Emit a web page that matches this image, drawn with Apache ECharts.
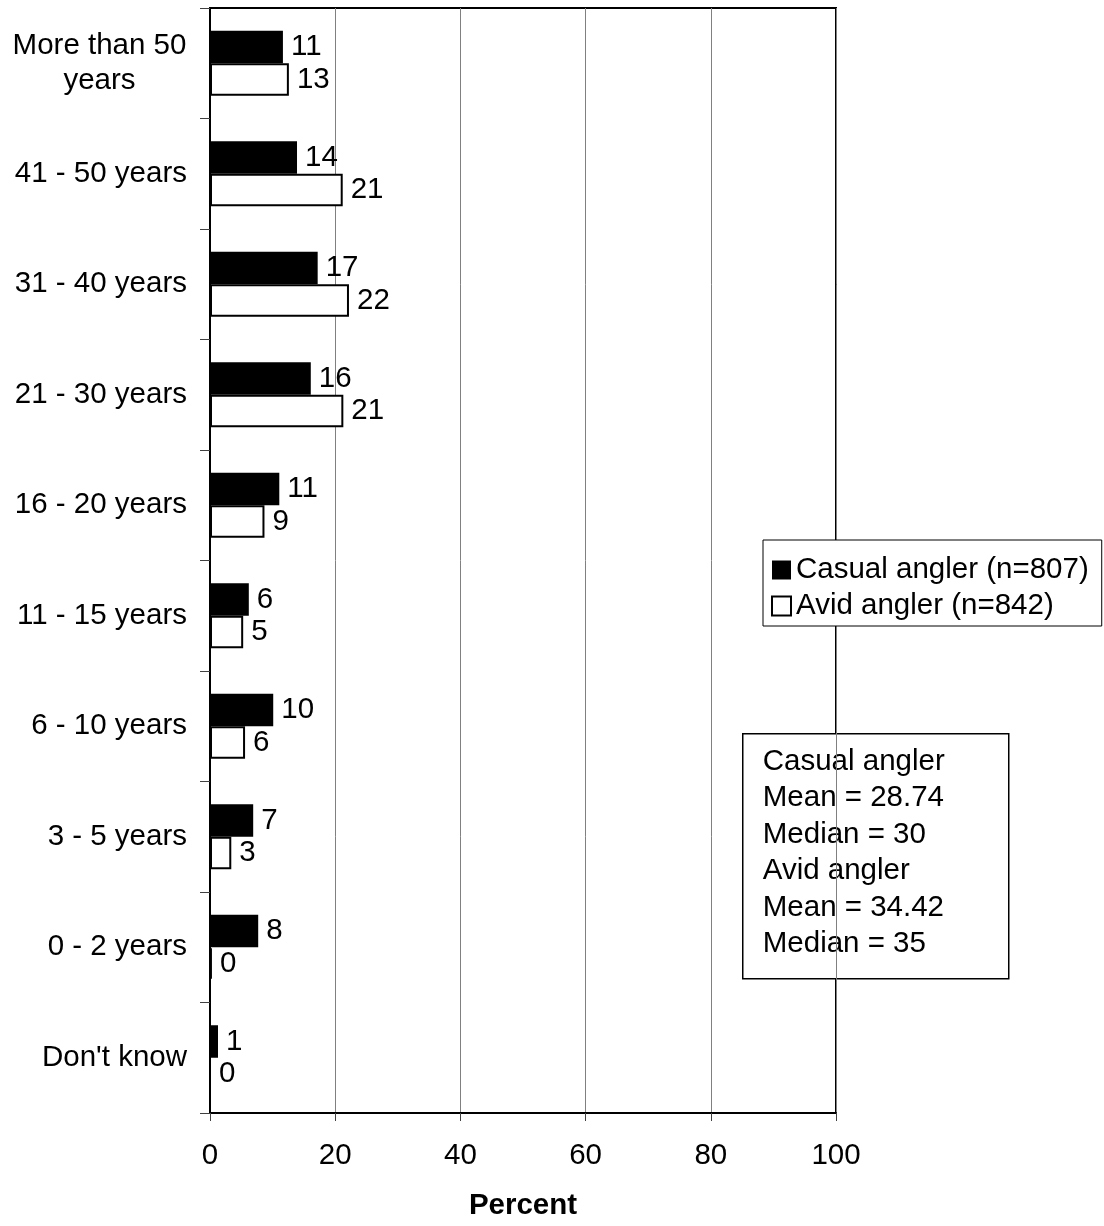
<!DOCTYPE html>
<html>
<head>
<meta charset="utf-8">
<script src="https://cdn.jsdelivr.net/npm/echarts@6/dist/echarts.min.js"></script>
<style>html,body{margin:0;padding:0;background:#fff;overflow:hidden;}#c{width:1104px;height:1226px;}</style>
</head>
<body>
<div id="c"></div>
<script>
const categories = ['More than 50 years', '41 - 50 years', '31 - 40 years', '21 - 30 years', '16 - 20 years', '11 - 15 years', '6 - 10 years', '3 - 5 years', '0 - 2 years', "Don't know"];
const casualValues = [11.65, 13.9, 17.2, 16.1, 11.07, 6.2, 10.1, 6.9, 7.7, 1.28];
const avidValues = [12.6, 21.2, 22.2, 21.3, 8.7, 5.3, 5.6, 3.4, 0.3, 0];
const casualLabels = [11, 14, 17, 16, 11, 6, 10, 7, 8, 1];
const avidLabels = [13, 21, 22, 21, 9, 5, 6, 3, 0, 0];
const seriesNames = ['Casual angler (n=807)', 'Avid angler (n=842)'];
const xTicks = [0, 20, 40, 60, 80, 100];
const statsLines = ['Casual angler', 'Mean = 28.74', 'Median = 30', 'Avid angler', 'Mean = 34.42', 'Median = 35'];

const FONT = "'Liberation Sans', Arial, sans-serif";
const FS = 29.5;
const chart = echarts.init(document.getElementById('c'));
chart.setOption({
  animation: false,
  backgroundColor: '#fff',
  textStyle: { fontFamily: FONT, color: '#000' },
  grid: { left: 210, right: 268, top: 8, bottom: 107, show: true, borderColor: '#000', borderWidth: 2, containLabel: false },
  legend: {
    orient: 'vertical', left: 763, top: 540,
    backgroundColor: '#fff', borderColor: '#000', borderWidth: 1,
    padding: [12, 13, 2, 8], itemGap: 0,
    itemWidth: 19, itemHeight: 19, icon: 'rect',
    textStyle: { fontFamily: FONT, fontSize: FS, color: '#000', lineHeight: 36 },
    data: seriesNames
  },
  xAxis: {
    type: 'value', min: xTicks[0], max: xTicks[xTicks.length - 1], interval: 20,
    name: 'Percent', nameLocation: 'middle', nameGap: 78,
    nameTextStyle: { fontFamily: FONT, fontSize: FS, fontWeight: 'bold', color: '#000' },
    axisLine: { show: true, lineStyle: { color: '#000', width: 2 } },
    axisTick: { show: true, length: 8, lineStyle: { color: '#404040', width: 1 } },
    axisLabel: { fontFamily: FONT, fontSize: FS, color: '#000', margin: 28 },
    splitLine: { show: true, lineStyle: { color: '#808080', width: 1 } }
  },
  yAxis: {
    type: 'category', inverse: true, data: categories,
    axisLine: { show: true, lineStyle: { color: '#000', width: 2 } },
    axisTick: { show: true, length: 10, lineStyle: { color: '#404040', width: 1 } },
    axisLabel: {
      fontFamily: FONT, fontSize: FS, color: '#000', margin: 23,
      formatter: function (v) {
        if (v === 'More than 50 years') return '{w|More than 50}\n{w|years}';
        return v;
      },
      rich: { w: { fontFamily: FONT, fontSize: FS, color: '#000', width: 175, align: 'center', lineHeight: 35 } }
    },
    splitLine: { show: false }
  },
  series: [
    {
      name: seriesNames[0], type: 'bar', data: casualValues,
      barWidth: 32.5, barGap: '0%',
      itemStyle: { color: '#000', borderColor: '#000', borderWidth: 0 },
      label: { show: true, position: 'right', distance: 8, fontFamily: FONT, fontSize: FS, color: '#000',
        formatter: p => String(casualLabels[p.dataIndex]) }
    },
    {
      name: seriesNames[1], type: 'bar', data: avidValues,
      barWidth: 32.5, barGap: '0%',
      itemStyle: { color: '#fff', borderColor: '#000', borderWidth: 2 },
      label: { show: true, position: 'right', distance: 8, fontFamily: FONT, fontSize: FS, color: '#000',
        formatter: p => String(avidLabels[p.dataIndex]) }
    }
  ],
  graphic: [
    {
      type: 'group', left: 742, top: 733, z: 100,
      children: [
        { type: 'rect', shape: { x: 0, y: 0, width: 266, height: 245 }, style: { fill: '#fff', stroke: '#000', lineWidth: 1.5 } },
        { type: 'text', x: 20, y: 10, style: { text: statsLines.join('\n'), font: FS + "px " + FONT, fill: '#000', lineHeight: 36.4 } }
      ]
    }
  ]
});
</script>
</body>
</html>
